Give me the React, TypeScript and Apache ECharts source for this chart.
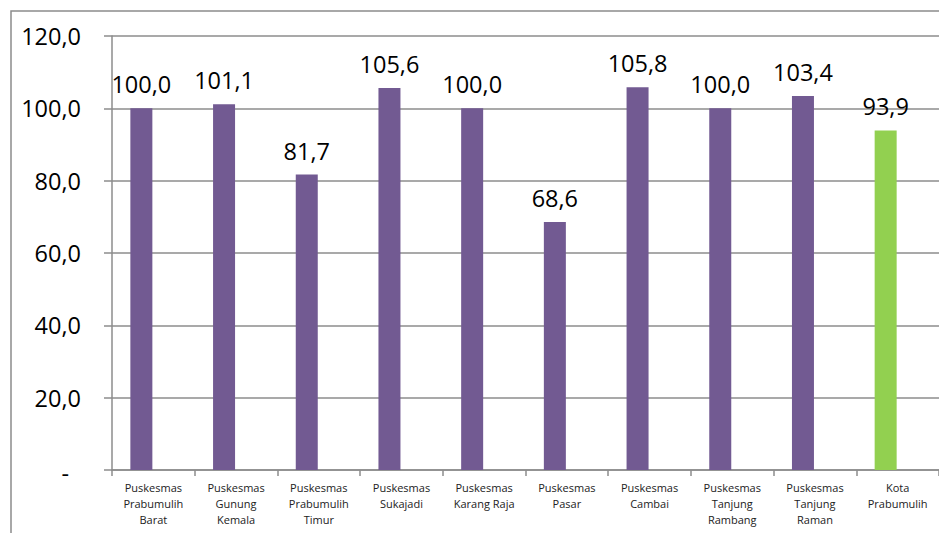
import React, { useEffect, useRef } from "react";
import * as echarts from "echarts";

const categories = [
  "Puskesmas\nPrabumulih\nBarat",
  "Puskesmas\nGunung\nKemala",
  "Puskesmas\nPrabumulih\nTimur",
  "Puskesmas\nSukajadi",
  "Puskesmas\nKarang Raja",
  "Puskesmas\nPasar",
  "Puskesmas\nCambai",
  "Puskesmas\nTanjung\nRambang",
  "Puskesmas\nTanjung\nRaman",
  "Kota\nPrabumulih",
];
const values = [100.0, 101.1, 81.7, 105.6, 100.0, 68.6, 105.8, 100.0, 103.4, 93.9];
const emptyValues = [null, null, null, null, null, null, null, null, null, null];
const barColors = ["#725A92", "#725A92", "#725A92", "#725A92", "#725A92", "#725A92", "#725A92", "#725A92", "#725A92", "#92D050"];

const fmt = (v: number) => (v === 0 ? "-" : v.toFixed(1).replace(".", ","));

export default function App() {
  const ref = useRef<HTMLDivElement>(null);
  useEffect(() => {
    document.body.style.margin = "0";
    const chart = echarts.init(ref.current!, null, { renderer: "svg" });
    const font = "'Open Sans', 'Noto Sans', sans-serif";
    chart.setOption({
      animation: false,
      backgroundColor: "#ffffff",
      graphic: [
        {
          type: "rect",
          shape: { x: 11, y: 11, width: 1000, height: 600 },
          style: { fill: "none", stroke: "#8c8c8c", lineWidth: 1.5 },
          silent: true,
        },
      ],
      grid: { left: 112, top: 36, width: 830, height: 434, containLabel: false },
      xAxis: {
        type: "category",
        data: categories,
        axisLine: { show: true, lineStyle: { color: "#8c8c8c", width: 1.5 } },
        axisTick: { show: true, alignWithLabel: false, length: 6, lineStyle: { color: "#8c8c8c", width: 1.5 } },
        axisLabel: {
          interval: 0,
          margin: 9,
          fontSize: 11,
          lineHeight: 16,
          color: "#222",
          fontFamily: font,
        },
      },
      yAxis: {
        type: "value",
        min: 0,
        max: 120,
        interval: 20,
        axisLine: { show: true, lineStyle: { color: "#8c8c8c", width: 1.5 } },
        axisTick: { show: true, length: 8, lineStyle: { color: "#8c8c8c", width: 1.5 } },
        splitLine: { show: true, lineStyle: { color: "#8c8c8c", width: 1.5 } },
        axisLabel: {
          margin: 31,
          fontSize: 23.5,
          color: "#000",
          fontFamily: font,
          formatter: (v: number) => (v === 0 ? "{d|-}" : fmt(v)),
          rich: {
            d: { fontSize: 23.5, fontFamily: font, color: "#000", padding: [6, 12, 0, 0] },
          },
        },
      },
      series: [
        {
          type: "bar",
          barWidth: 22,
          barGap: "9%",
          data: values.map((v, i) => ({ value: v, itemStyle: { color: barColors[i] } })),
          label: {
            show: true,
            position: "top",
            distance: 12,
            fontSize: 23.5,
            color: "#000",
            fontFamily: font,
            formatter: (p: any) => fmt(p.value),
          },
        },
        {
          type: "bar",
          barWidth: 22,
          barGap: "9%",
          data: emptyValues,
          silent: true,
        },
      ],
    });
    return () => chart.dispose();
  }, []);
  return <div ref={ref} style={{ width: 939, height: 533 }} />;
}
